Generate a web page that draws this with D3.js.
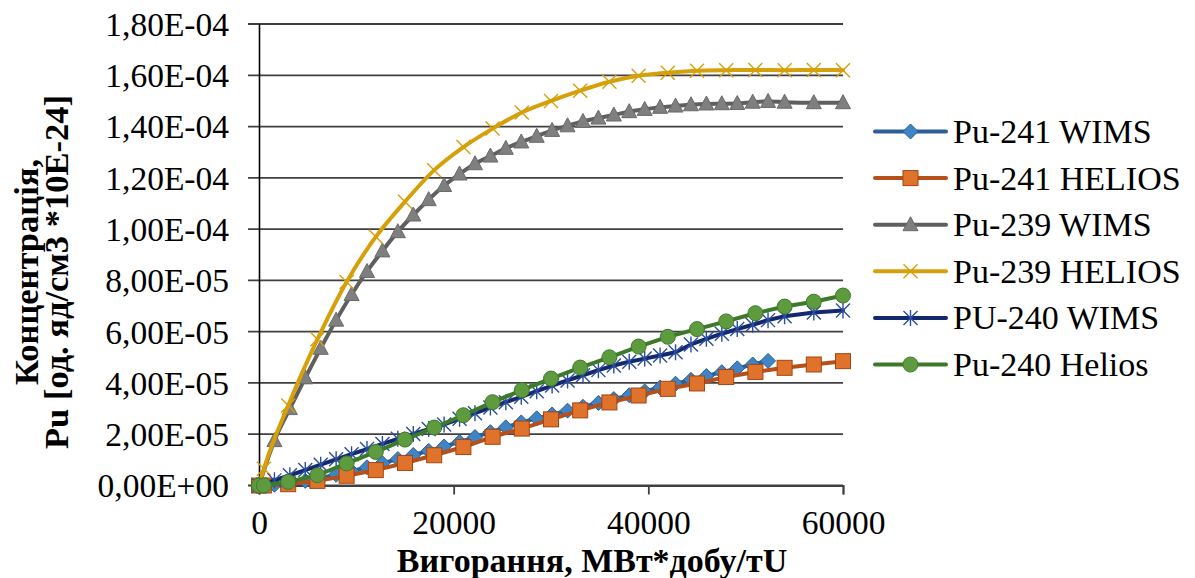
<!DOCTYPE html>
<html><head><meta charset="utf-8">
<script src="https://cdn.jsdelivr.net/npm/d3@7"></script>
<style>
body{margin:0;background:#fff}
svg{display:block}
text{font-family:"Liberation Serif","Times New Roman",serif;fill:#000}
</style>
</head><body>
<svg id="c" width="1195" height="578"></svg>
<script>
// ---- data (values in units of 1e-5) ----
const UNIT = 1e-5;
const helX = [0, 500, 3000, 6000, 9000, 12000, 15000, 18000, 21000, 24000, 27000, 30000, 33000, 36000, 39000, 42000, 45000, 48000, 51000, 54000, 57000, 60000];
const wimsX = [0, 1585, 3170, 4755, 6340, 7925, 9510, 11095, 12680, 14265, 15850, 17435, 19020, 20605, 22190, 23775, 25360, 26945, 28530, 30115, 31700, 33285, 34870, 36455, 38040, 39625, 41210, 42795, 44380, 45965, 47550, 49135, 50720, 52300, 54000, 57000, 60000];

const pu241Wims = [0, 0.03, 0.09, 0.18, 0.29, 0.42, 0.56, 0.71, 0.87, 1.03, 1.19, 1.35, 1.52, 1.7, 1.89, 2.08, 2.27, 2.46, 2.62, 2.77, 2.92, 3.07, 3.22, 3.37, 3.52, 3.67, 3.82, 3.97, 4.12, 4.27, 4.42, 4.57, 4.72, 4.86];
const pu241Helios = [0, 0, 0.05, 0.18, 0.38, 0.6, 0.88, 1.18, 1.5, 1.9, 2.22, 2.58, 2.93, 3.24, 3.51, 3.77, 3.98, 4.23, 4.43, 4.59, 4.72, 4.85];
const pu239Wims = [0, 1.75, 3.0, 4.2, 5.35, 6.45, 7.45, 8.35, 9.15, 9.9, 10.55, 11.15, 11.7, 12.15, 12.55, 12.85, 13.15, 13.4, 13.62, 13.85, 14.03, 14.2, 14.33, 14.45, 14.58, 14.67, 14.75, 14.8, 14.85, 14.88, 14.89, 14.9, 14.95, 14.98, 14.95, 14.93, 14.93];
const pu239Helios = [0, 0.65, 3.12, 5.7, 7.94, 9.7, 11.07, 12.3, 13.2, 13.92, 14.55, 15.0, 15.4, 15.75, 15.98, 16.1, 16.18, 16.2, 16.21, 16.2, 16.21, 16.2];
const pu240Wims = [0, 0.2, 0.4, 0.6, 0.81, 1.02, 1.22, 1.42, 1.62, 1.82, 2.01, 2.2, 2.38, 2.6, 2.82, 3.04, 3.25, 3.46, 3.68, 3.9, 4.1, 4.3, 4.5, 4.68, 4.83, 4.95, 5.07, 5.2, 5.5, 5.72, 5.92, 6.1, 6.27, 6.45, 6.6, 6.75, 6.83];
const pu240Helios = [0, 0, 0.14, 0.4, 0.86, 1.31, 1.79, 2.26, 2.74, 3.25, 3.72, 4.17, 4.6, 5.0, 5.42, 5.8, 6.1, 6.4, 6.72, 6.98, 7.17, 7.41];

const seriesNames = ["Pu-241 WIMS", "Pu-241 HELIOS", "Pu-239 WIMS", "Pu-239 HELIOS", "PU-240 WIMS", "Pu-240 Helios"];

const yTickValues = [0, 2e-5, 4e-5, 6e-5, 8e-5, 1e-4, 1.2e-4, 1.4e-4, 1.6e-4, 1.8e-4];
const yTickLabels = ["0,00E+00", "2,00E-05", "4,00E-05", "6,00E-05", "8,00E-05", "1,00E-04", "1,20E-04", "1,40E-04", "1,60E-04", "1,80E-04"];
const xTickValues = [0, 20000, 40000, 60000];
const xTickLabels = ["0", "20000", "40000", "60000"];

const xTitle = "Вигорання, МВт*добу/тU";
const yTitle1 = "Концентрація,";
const yTitle2 = "Pu [од. яд/см3 *10E-24]";

// ---- styles ----
const styles = [
  {line:"#2c5f95", fill:"#3f84c4", stroke:"#2c5f95", marker:"diamond"},
  {line:"#b5501a", fill:"#e0732c", stroke:"#a4450f", marker:"square"},
  {line:"#5f5f5f", fill:"#7f7f7f", stroke:"#6a6a6a", marker:"triangle"},
  {line:"#d6a00a", fill:"none", stroke:"#d6a00a", marker:"x"},
  {line:"#14286e", fill:"none", stroke:"#2a4da0", marker:"star"},
  {line:"#3c7a2a", fill:"#5e9b3f", stroke:"#3f7a2c", marker:"circle"}
];

const series = [
  {xs: wimsX, ys: pu241Wims},
  {xs: helX, ys: pu241Helios},
  {xs: wimsX, ys: pu239Wims},
  {xs: helX, ys: pu239Helios},
  {xs: wimsX, ys: pu240Wims},
  {xs: helX, ys: pu240Helios}
].map((s,i)=>({name: seriesNames[i], style: styles[i],
   pts: s.ys.map((v,j)=>[s.xs[j], v*UNIT])}));

const svg = d3.select("#c");
const x = d3.scaleLinear().domain([0,60000]).range([259,843]);
const y = d3.scaleLinear().domain([0,1.8e-4]).range([485.5,24]);

// grid lines
svg.append("g").selectAll("line").data(yTickValues).join("line")
  .attr("x1", x(0)-11).attr("x2", x(60000))
  .attr("y1", d=>y(d)).attr("y2", d=>y(d))
  .attr("stroke", "#404040").attr("stroke-width", 1.8);

// y axis
const yAxis = svg.append("g").attr("transform", `translate(${x(0)},0)`)
  .call(d3.axisLeft(y).tickValues(yTickValues).tickFormat((d,i)=>yTickLabels[i]).tickSize(0).tickPadding(30));
yAxis.select(".domain").attr("stroke","#000").attr("stroke-width",1.6);
yAxis.selectAll("text").attr("font-size", 33.5).attr("font-family", "Liberation Serif").attr("dy","0.34em");

// x axis
const xAxis = svg.append("g").attr("transform", `translate(0,${y(0)})`)
  .call(d3.axisBottom(x).tickValues(xTickValues).tickFormat((d,i)=>xTickLabels[i]).tickSize(9).tickPadding(16));
xAxis.select(".domain").attr("stroke","#404040").attr("stroke-width",1.8);
xAxis.selectAll(".tick line").attr("stroke","#404040").attr("stroke-width",1.8);
xAxis.selectAll("text").attr("font-size", 33.5).attr("font-family", "Liberation Serif");

// titles
svg.append("text").attr("x", 592).attr("y", 572).attr("text-anchor","middle")
  .attr("font-size", 34).attr("font-weight","bold").text(xTitle);
svg.append("text").attr("transform","translate(38,272) rotate(-90)").attr("text-anchor","middle")
  .attr("font-size", 34.5).attr("font-weight","bold").text(yTitle1);
svg.append("text").attr("transform","translate(68,272) rotate(-90)").attr("text-anchor","middle")
  .attr("font-size", 34.5).attr("font-weight","bold").text(yTitle2);

// marker drawing
function drawMarker(g, type, st){
  switch(type){
    case "diamond":
      g.append("path").attr("d","M0,-7.5L7.5,0L0,7.5L-7.5,0Z").attr("fill",st.fill).attr("stroke",st.stroke).attr("stroke-width",1); break;
    case "square":
      g.append("rect").attr("x",-7.5).attr("y",-7.5).attr("width",15).attr("height",15)
        .attr("fill",st.fill).attr("stroke",st.stroke).attr("stroke-width",1); break;
    case "triangle":
      g.append("path").attr("d","M0,-8L7.5,6L-7.5,6Z").attr("fill",st.fill).attr("stroke",st.stroke).attr("stroke-width",1); break;
    case "x":
      g.append("path").attr("d","M-7,-7L7,7M-7,7L7,-7").attr("stroke",st.stroke).attr("stroke-width",1.4).attr("fill","none"); break;
    case "star":
      g.append("path").attr("d","M-7,-7L7,7M-7,7L7,-7M0,-8L0,8").attr("stroke",st.stroke).attr("stroke-width",1.4).attr("fill","none"); break;
    case "circle":
      g.append("circle").attr("r",7.5).attr("fill",st.fill).attr("stroke",st.stroke).attr("stroke-width",1); break;
  }
}

const line = d3.line().x(d=>x(d[0])).y(d=>y(d[1]));
const smooth = d3.line().x(d=>x(d[0])).y(d=>y(d[1])).curve(d3.curveMonotoneX);

series.forEach((s,i)=>{
  const g = svg.append("g");
  g.append("path").datum(s.pts)
    .attr("d", (i===2||i===3) ? smooth : line)
    .attr("fill","none").attr("stroke", s.style.line).attr("stroke-width", 4)
    .attr("stroke-linejoin","round").attr("stroke-linecap","round");
  s.pts.forEach(p=>{
    const m = g.append("g").attr("transform", `translate(${x(p[0])},${y(p[1])})`);
    drawMarker(m, s.style.marker, s.style);
  });
});

// legend
const leg = svg.append("g");
seriesNames.forEach((n,i)=>{
  const cy = 131.5 + i*46.6;
  const st = styles[i];
  leg.append("line").attr("x1",875).attr("x2",946).attr("y1",cy).attr("y2",cy)
    .attr("stroke", st.line).attr("stroke-width",4).attr("stroke-linecap","round");
  const m = leg.append("g").attr("transform",`translate(910.5,${cy})`);
  drawMarker(m, st.marker, st);
  leg.append("text").attr("x",953).attr("y",cy+11.5).attr("font-size",34).text(n);
});
</script>
</body></html>
